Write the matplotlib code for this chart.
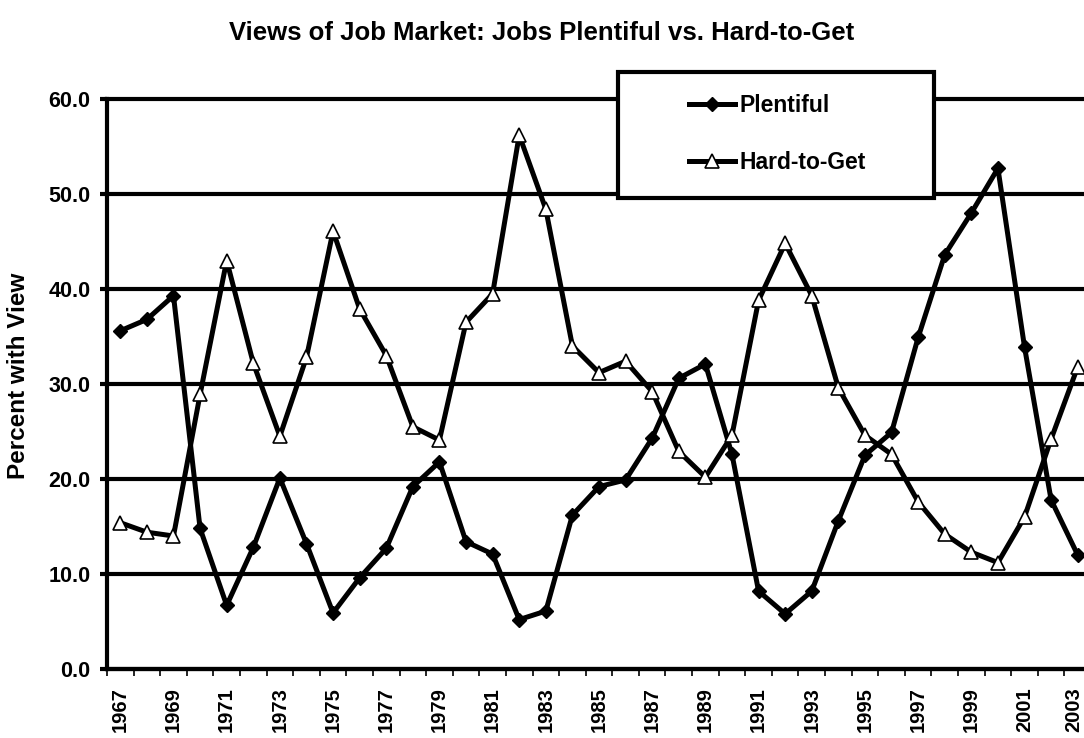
import numpy as np
import matplotlib
matplotlib.use("Agg")
import matplotlib.pyplot as plt
import matplotlib.transforms as mtransforms
from matplotlib.patches import Rectangle

# Survey data: share of people saying jobs are plentiful / hard to get
years = [1967, 1968, 1969, 1970, 1971, 1972, 1973, 1974, 1975, 1976,
         1977, 1978, 1979, 1980, 1981, 1982, 1983, 1984, 1985, 1986,
         1987, 1988, 1989, 1990, 1991, 1992, 1993, 1994, 1995, 1996,
         1997, 1998, 1999, 2000, 2001, 2002, 2003]
plentiful = [35.6, 36.8, 39.3, 14.8, 6.7, 12.8, 20.1, 13.2, 5.9, 9.6,
             12.7, 19.2, 21.8, 13.4, 12.1, 5.2, 6.1, 16.2, 19.2, 19.9,
             24.3, 30.6, 32.1, 22.6, 8.2, 5.8, 8.2, 15.6, 22.5, 24.9,
             34.9, 43.6, 48.0, 52.7, 33.9, 17.8, 12.0]
hard_to_get = [15.4, 14.4, 14.0, 28.9, 43.0, 32.2, 24.5, 32.8, 46.1, 37.9,
               33.0, 25.5, 24.1, 36.5, 39.5, 56.2, 48.4, 34.0, 31.2, 32.4,
               29.2, 22.9, 20.2, 24.6, 38.8, 44.8, 39.3, 29.6, 24.6, 22.6,
               17.6, 14.2, 12.3, 11.2, 16.0, 24.2, 31.8]
y_ticks = [0, 10, 20, 30, 40, 50, 60]

plt.rcParams['font.family'] = ['Liberation Sans', 'DejaVu Sans']
plt.rcParams['font.weight'] = 'bold'

W, H = 1084, 738
fig = plt.figure(figsize=(W / 100, H / 100), dpi=100)

# plot area (right side runs off the picture like in the original)
left, right, top, bottom = 107, 1091, 99, 669
ax = fig.add_axes([left / W, 1 - bottom / H, (right - left) / W, (bottom - top) / H])

x = np.arange(len(years))
ax.plot(x, plentiful, color='black', lw=3.6, marker='D', ms=7.5,
        mfc='black', mec='black', label='Plentiful', zorder=3)
ax.plot(x, hard_to_get, color='black', lw=3.6, marker='^', ms=10.5,
        mfc='white', mec='black', mew=1.2, label='Hard-to-Get', zorder=4)

ax.set_xlim(-0.5, len(years) - 0.5)
ax.set_ylim(0, 60)

# y axis
ax.set_yticks(y_ticks)
ax.set_yticklabels(['%.1f' % v for v in y_ticks], fontsize=15.5, fontweight='bold')
ax.yaxis.grid(True, color='black', lw=3)
for gl in ax.yaxis.get_gridlines():
    gl.set_clip_on(False)
ax.set_axisbelow(True)
ax.tick_params(axis='y', length=5, width=3, pad=7)

# x axis: ticks between categories, label every other year
ax.set_xticks(np.arange(len(years) + 1) - 0.5)
ax.set_xticklabels([])
ax.set_xticks(x[::2], minor=True)
ax.set_xticklabels([str(y) for y in years[::2]], minor=True, rotation=90,
                   fontsize=14.5, fontweight='bold')
ax.tick_params(axis='x', which='major', length=5, width=1.2)
ax.tick_params(axis='x', which='minor', length=0, pad=13)
xlabels = ax.get_xticklabels(minor=True)
for lbl in xlabels:
    lbl.set_va('top')
# nudge the last year a little so it stays inside the picture
shift = mtransforms.ScaledTranslation(-4 / 100, 0, fig.dpi_scale_trans)
xlabels[-1].set_transform(xlabels[-1].get_transform() + shift)

for s in ['top', 'right']:
    ax.spines[s].set_visible(False)
ax.spines['left'].set_linewidth(3)
ax.spines['bottom'].set_linewidth(3)

fig.text(0.5, 1 - 33 / H, 'Views of Job Market: Jobs Plentiful vs. Hard-to-Get',
         ha='center', va='center', fontsize=18.5, fontweight='bold')
fig.text(19 / W, 1 - 376 / H, 'Percent with View', rotation=90,
         ha='center', va='center', fontsize=17.5, fontweight='bold')

# legend box drawn by hand, legend itself without frame
box = Rectangle((618 / W, 1 - 198 / H), 316 / W, 126 / H, transform=fig.transFigure,
                facecolor='white', edgecolor='black', lw=3, zorder=5)
fig.add_artist(box)
handles, labels = ax.get_legend_handles_labels()
leg = fig.legend(handles, labels, loc='center left',
                 bbox_to_anchor=(678 / W, 1 - 134 / H), bbox_transform=fig.transFigure,
                 frameon=False, borderpad=0, handlelength=2.0, handletextpad=0.2,
                 labelspacing=1.45, prop={'size': 16.5, 'weight': 'bold'})
leg.set_zorder(6)

fig.savefig('out.png', dpi=100)
